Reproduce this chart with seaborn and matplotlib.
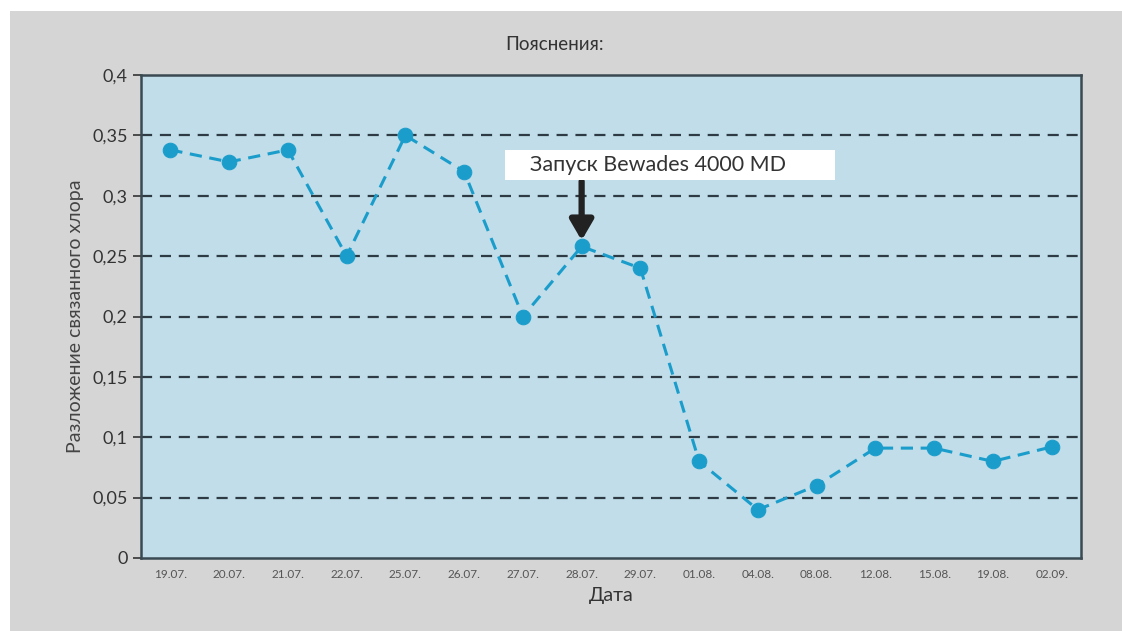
import matplotlib
matplotlib.use('Agg')
import matplotlib.pyplot as plt
import matplotlib.patches as mpatches
import seaborn as sns
import pandas as pd

dates = ['19.07.', '20.07.', '21.07.', '22.07.', '25.07.', '26.07.', '27.07.', '28.07.',
         '29.07.', '01.08.', '04.08.', '08.08.', '12.08.', '15.08.', '19.08.', '02.09.']
chlorine = [0.338, 0.328, 0.338, 0.25, 0.35, 0.32, 0.20, 0.258,
            0.24, 0.08, 0.04, 0.06, 0.091, 0.091, 0.08, 0.092]
y_ticks = [0, 0.05, 0.1, 0.15, 0.2, 0.25, 0.3, 0.35, 0.4]
y_labels = ['0', '0,05', '0,1', '0,15', '0,2', '0,25', '0,3', '0,35', '0,4']
note_text = 'Запуск Bewades 4000 MD'
note_idx = 7

df = pd.DataFrame({'pos': range(len(dates)), 'value': chlorine})

sns.set_style('white')
plt.rcParams['font.family'] = ['Lato', 'DejaVu Sans']

fig = plt.figure(figsize=(11.22, 6.31), dpi=100, facecolor='white')
fig.patches.append(mpatches.Rectangle((10 / 1122, 0), 1, (631 - 11) / 631,
                                      transform=fig.transFigure, facecolor='#d5d5d5',
                                      edgecolor='none', zorder=-10))
ax = fig.add_axes([141 / 1122, (631 - 558) / 631, 940 / 1122, 483 / 631])
ax.set_facecolor('#c0dde9')

for y in y_ticks[1:-1]:
    ax.axhline(y, color='#2e3b44', lw=1.6, ls=(0, (5, 3.5)), zorder=1)

sns.lineplot(data=df, x='pos', y='value', ax=ax, color='#1b9dcb', lw=2.2,
             linestyle=(0, (4, 2.5)), marker='o', markersize=10.5,
             markeredgecolor='#1b9dcb', zorder=3)

ax.set_xlim(-0.5, len(dates) - 0.5)
ax.set_ylim(0, 0.4)
ax.set_yticks(y_ticks)
ax.set_yticklabels(y_labels, fontsize=13, color='#333333')
ax.set_xticks([i - 0.5 for i in range(len(dates) + 1)])
ax.set_xticklabels([])
ax.set_xticks(list(range(len(dates))), minor=True)
ax.set_xticklabels(dates, minor=True, fontsize=8.5, color='#555555')
ax.tick_params(axis='x', which='major', direction='out', length=5, width=1.5, color='#333333')
ax.tick_params(axis='x', which='minor', length=0, pad=8)
ax.tick_params(axis='y', direction='out', length=6, width=1.2, color='#333333', left=True)

for s in ax.spines.values():
    s.set_color('#3a4a52')
    s.set_linewidth(1.8)

ax.set_xlabel('Дата', fontsize=14, color='#333333', labelpad=5)
ax.set_ylabel('Разложение связанного хлора', fontsize=14, color='#444444', labelpad=6)
fig.text(555 / 1122, 1 - 45 / 631, 'Пояснения:', ha='center', va='center',
         fontsize=13.5, color='#333333')

# annotation box and arrow
ax.add_patch(mpatches.Rectangle((364 / 940, 378 / 483), 330 / 940, 30 / 483,
                                transform=ax.transAxes, facecolor='white',
                                edgecolor='none', zorder=5))
ax.text(389 / 940, 393 / 483, note_text, transform=ax.transAxes, ha='left',
        va='center', fontsize=15.5, color='#333333', zorder=6)
ax.annotate('', xy=(note_idx, chlorine[note_idx] + 0.005), xytext=(note_idx, 0.312),
            arrowprops=dict(arrowstyle='-|>,head_width=0.7,head_length=1.2',
                            color='#222222', lw=4.5, shrinkA=0, shrinkB=0), zorder=4)

fig.savefig('out.png', dpi=100, facecolor=fig.get_facecolor())
